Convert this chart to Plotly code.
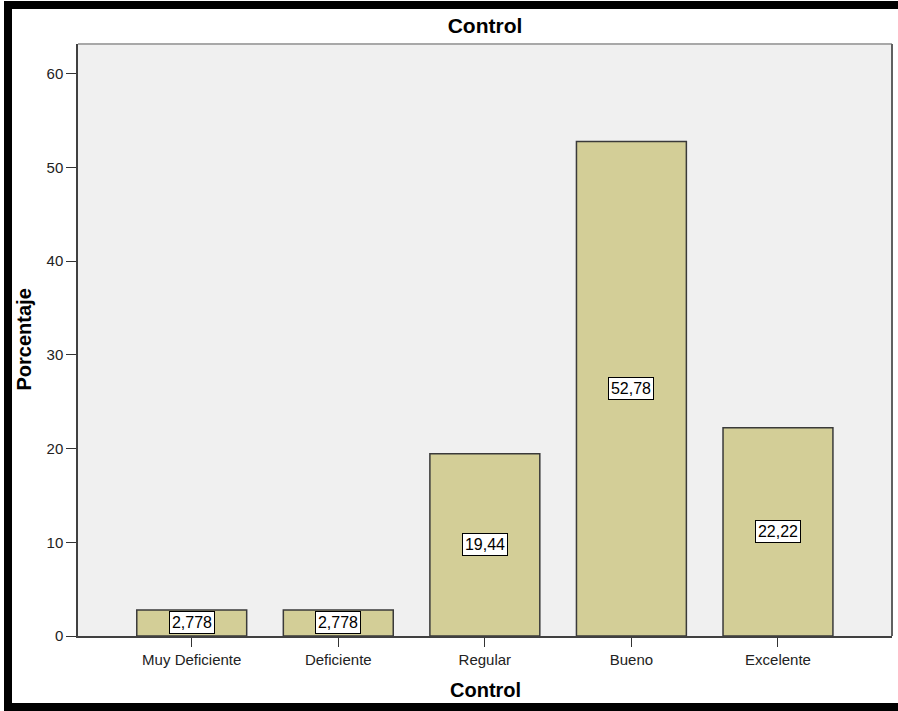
import plotly.graph_objects as go

# Frequency table: Control
categories = ["Muy Deficiente", "Deficiente", "Regular", "Bueno", "Excelente"]
percentages = [2.778, 2.778, 19.44, 52.78, 22.22]
y_ticks = [0, 10, 20, 30, 40, 50, 60]

W, H = 898, 711
ML, MR, MT, MB = 78, 6, 44, 75
PW, PH = W - ML - MR, H - MT - MB

FONT = "Liberation Sans, Arial, sans-serif"
BAR_FILL = "#d3ce97"
PLOT_BG = "#f0f0f0"


def px_x(px):
    return (px - ML) / PW


def px_y(py):
    return (H - MB - py) / PH


def label(v):
    return f"{v:.4g}".replace(".", ",")


fig = go.Figure()
fig.add_trace(go.Bar(
    x=categories,
    y=percentages,
    width=0.75,
    marker=dict(color=BAR_FILL, line=dict(color="#3a3a3a", width=1.5)),
    hoverinfo="skip",
))

annotations = []
for c, v in zip(categories, percentages):
    annotations.append(dict(
        x=c, y=v / 2, xref="x", yref="y",
        text=label(v), showarrow=False,
        font=dict(family=FONT, size=16, color="#000"),
        bgcolor="#ffffff", bordercolor="#000000", borderwidth=1,
        borderpad=1, width=42, height=19,
    ))

# axis titles
annotations.append(dict(
    x=0.5, y=px_y(690), xref="paper", yref="paper",
    text="<b>Control</b>", showarrow=False, yanchor="middle",
    font=dict(family=FONT, size=20, color="#000"),
))
annotations.append(dict(
    x=px_x(23.5), y=0.5, xref="paper", yref="paper",
    text="<b>Porcentaje</b>", showarrow=False, textangle=-90,
    xanchor="center", yanchor="middle",
    font=dict(family=FONT, size=20, color="#000"),
))

shapes = [
    # plot frame: top and right edges
    dict(type="line", xref="paper", yref="paper", x0=0, x1=1, y0=1, y1=1,
         line=dict(color="#a8a8a8", width=2)),
    dict(type="line", xref="paper", yref="paper", x0=1, x1=1, y0=0, y1=1,
         line=dict(color="#606060", width=2)),
    # outer black frame
    dict(type="rect", xref="paper", yref="paper", layer="above",
         x0=px_x(4), x1=px_x(W), y0=px_y(1), y1=px_y(9),
         fillcolor="#000", line=dict(width=0)),
    dict(type="rect", xref="paper", yref="paper", layer="above",
         x0=px_x(4), x1=px_x(12), y0=px_y(1), y1=px_y(H),
         fillcolor="#000", line=dict(width=0)),
    dict(type="rect", xref="paper", yref="paper", layer="above",
         x0=px_x(4), x1=px_x(W), y0=px_y(703), y1=px_y(H),
         fillcolor="#000", line=dict(width=0)),
]

fig.update_layout(
    width=W, height=H,
    margin=dict(l=ML, r=MR, t=MT, b=MB, pad=0),
    paper_bgcolor="#ffffff",
    plot_bgcolor=PLOT_BG,
    showlegend=False,
    bargap=0.25,
    title=dict(text="<b>Control</b>", x=0.5, xref="paper", xanchor="center",
               y=1 - 25.5 / H, yref="container", yanchor="middle",
               font=dict(family=FONT, size=21, color="#000")),
    font=dict(family=FONT, size=15, color="#222"),
    xaxis=dict(
        range=[-0.776, 4.778],
        showgrid=False, zeroline=False,
        showline=True, linecolor="#404040", linewidth=1.5,
        ticks="outside", ticklen=9, tickwidth=1, tickcolor="#333",
        tickfont=dict(family=FONT, size=15, color="#222"),
    ),
    yaxis=dict(
        range=[0, 63.18],
        tickvals=y_ticks,
        showgrid=False, zeroline=False,
        showline=True, linecolor="#404040", linewidth=1.5,
        ticks="outside", ticklen=10, tickwidth=1, tickcolor="#333",
        tickfont=dict(family=FONT, size=15, color="#222"),
    ),
    annotations=annotations,
    shapes=shapes,
)

fig.write_html("out.html")
